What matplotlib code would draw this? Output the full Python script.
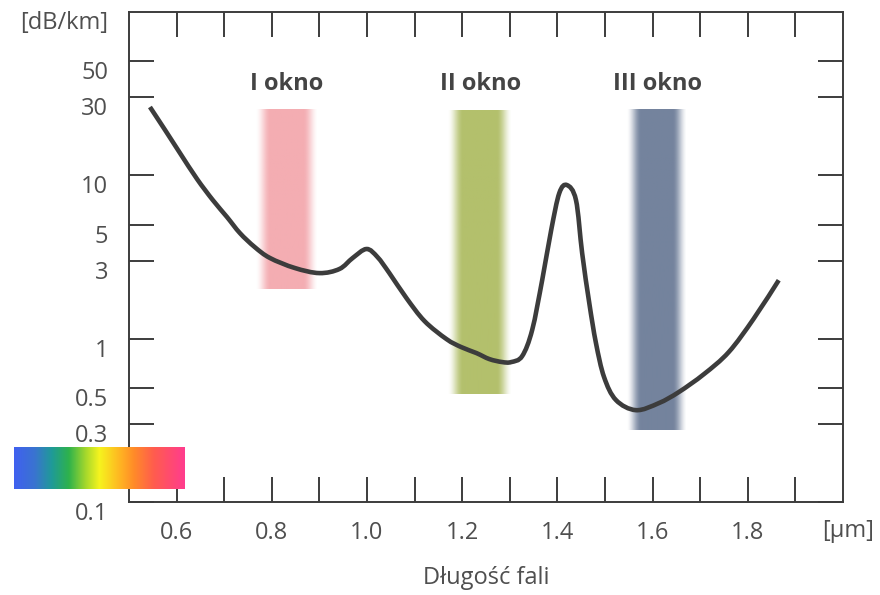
import numpy as np
import matplotlib
matplotlib.use("Agg")
import matplotlib.pyplot as plt
from matplotlib.colors import LinearSegmentedColormap, to_rgb
from matplotlib.path import Path
from matplotlib.patches import PathPatch

plt.rcParams["font.family"] = ["Open Sans", "DejaVu Sans"]

# attenuation curve
WAVELENGTH = [0.544, 0.576, 0.607, 0.643, 0.676, 0.706, 0.733, 0.764, 0.796, 0.848,
              0.900, 0.942, 0.970, 0.999, 1.022, 1.047, 1.083, 1.121, 1.167, 1.198,
              1.230, 1.257, 1.284, 1.303, 1.326, 1.347, 1.368, 1.387, 1.404, 1.420,
              1.439, 1.452, 1.467, 1.481, 1.498, 1.523, 1.565, 1.613, 1.655, 1.708,
              1.760, 1.812, 1.865]
ATTENUATION = [26.2, 18.9, 13.7, 9.49, 7.06, 5.55, 4.43, 3.64, 3.12, 2.71,
               2.52, 2.67, 3.12, 3.54, 3.16, 2.52, 1.77, 1.28, 0.994, 0.888,
               0.816, 0.750, 0.719, 0.719, 0.782, 1.13, 2.28, 4.63, 7.79, 8.72,
               7.06, 3.34, 1.65, 0.94, 0.582, 0.421, 0.365, 0.403, 0.471, 0.607,
               0.828, 1.32, 2.28]

# transmission windows
WINDOW_NAMES = ["I okno", "II okno", "III okno"]
WINDOW_X = [(0.764, 0.896), (1.169, 1.305), (1.544, 1.672)]
WINDOW_Y = [(2.0, 25.5), (0.46, 25.5), (0.275, 25.5)]
WINDOW_COLORS = ["#f4adb2", "#b3c06c", "#74839d"]

XTICKS = [0.6, 0.7, 0.8, 0.9, 1.0, 1.1, 1.2, 1.3, 1.4, 1.5, 1.6, 1.7, 1.8, 1.9]
XLABELS = ["0.6", "", "0.8", "", "1.0", "", "1.2", "", "1.4", "", "1.6", "", "1.8", ""]
YTICKS = [0.1, 0.3, 0.5, 1, 3, 5, 10, 30, 50]
YLABELS = ["0.1", "0.3", "0.5", "1", "3", "5", "10", "30", "50"]

SPECTRUM = ["#4060f0", "#3a74d0", "#1f9a98", "#2eb24c", "#a6d82c", "#f6f41e",
            "#ffb522", "#ff8c28", "#ff5c4e", "#ff3c8e"]
SPECTRUM_POS = [0.0, 0.12, 0.22, 0.32, 0.42, 0.50, 0.62, 0.70, 0.82, 1.0]

TXT = "#4f4f4f"
LINE = "#3c3c3c"


def smooth_path(xs, ys):
    """Catmull-Rom style bezier path through the points (in x, log y)."""
    p = np.column_stack([xs, np.log10(ys)])
    p = np.vstack([p[0], p, p[-1]])
    verts, codes = [p[1]], [Path.MOVETO]
    for i in range(1, len(p) - 2):
        c1 = p[i] + (p[i + 1] - p[i - 1]) / 6
        c2 = p[i + 1] - (p[i + 2] - p[i]) / 6
        verts += [c1, c2, p[i + 1]]
        codes += [Path.CURVE4] * 3
    v = np.array(verts)
    v[:, 1] = 10 ** v[:, 1]
    return Path(v, codes)


fig = plt.figure(figsize=(8.8, 5.95), dpi=100)
ax = fig.add_axes([129 / 880, 1 - 502 / 595, 714 / 880, 490 / 595])
ax.set_yscale("log")

# fading vertical bands
n = 200
t = np.linspace(0, 1, n)
fade = 0.24
alpha = np.clip(np.minimum(t, 1 - t) / fade, 0, 1)
alpha = alpha * alpha * (3 - 2 * alpha)
for name, (x0, x1), (y0, y1), c in zip(WINDOW_NAMES, WINDOW_X, WINDOW_Y, WINDOW_COLORS):
    img = np.zeros((1, n, 4))
    img[..., :3] = to_rgb(c)
    img[..., 3] = alpha
    ax.imshow(img, extent=(x0, x1, y0, y1), aspect="auto",
              interpolation="bilinear", zorder=1)
    ax.text((x0 + x1) / 2 + 0.002, 36, name, ha="center", va="center",
            fontsize=17, fontweight="bold", color="#444444")

ax.add_patch(PathPatch(smooth_path(WAVELENGTH, ATTENUATION), fc="none", ec=LINE,
                       lw=3.3, joinstyle="round", capstyle="butt", zorder=3))

ax.set_xlim(0.5, 2.0)
ax.set_ylim(0.1, 100)
ax.set_xticks(XTICKS, XLABELS)
ax.set_yticks(YTICKS, YLABELS)
ax.yaxis.set_minor_locator(matplotlib.ticker.NullLocator())
ax.tick_params(which="major", direction="in", length=18, width=1.4,
               color=LINE, top=True, right=True, labelsize=17, labelcolor=TXT)
ax.tick_params(axis="x", pad=14)
ax.tick_params(axis="y", pad=15)
plt.setp(ax.get_yticklabels(), va="top")
for s in ax.spines.values():
    s.set_color(LINE)
    s.set_linewidth(1.4)

fig.text(108 / 880, 1 - 23 / 595, "[dB/km]", ha="right", va="center",
         fontsize=17, color=TXT)
fig.text(848 / 880, 1 - 531 / 595, "[µm]", ha="center", va="center",
         fontsize=17, color=TXT)
fig.text(486 / 880, 1 - 578 / 595, "Długość fali", ha="center", va="center",
         fontsize=17, color=TXT)

# spectrum bar
cmap = LinearSegmentedColormap.from_list("spec", list(zip(SPECTRUM_POS, SPECTRUM)))
cax = fig.add_axes([14 / 880, 1 - 489 / 595, 171 / 880, 42 / 595], zorder=5)
cax.imshow(np.linspace(0, 1, 256)[None, :], cmap=cmap, aspect="auto")
cax.axis("off")

fig.savefig("out.png", dpi=100)
